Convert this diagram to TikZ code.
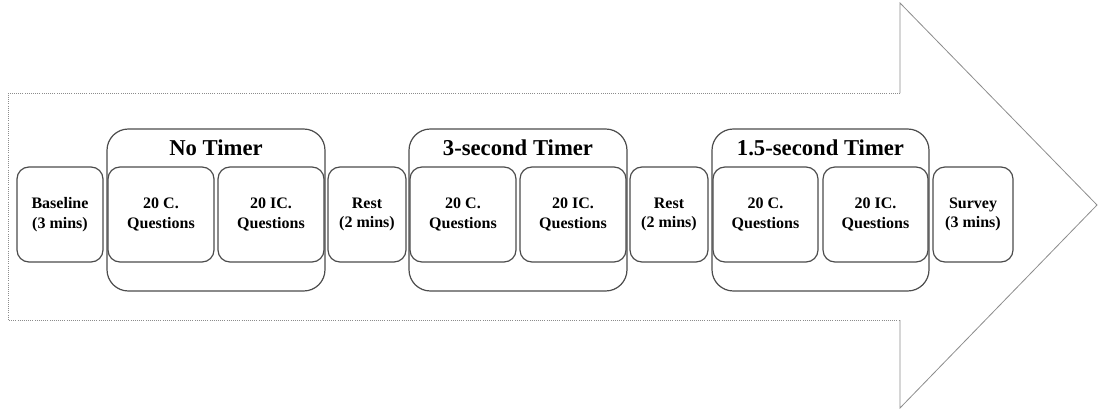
\documentclass[tikz,border=0pt]{standalone}
\usepackage{fontspec}
\setmainfont{Liberation Serif}
\begin{document}
\begin{tikzpicture}[x=0.75pt,y=-0.75pt,
  box/.style={draw=black!70,line width=0.9pt,rounded corners=9pt,inner sep=0pt,
    minimum height=71.25pt,align=center,font=\bfseries\fontsize{12}{14.5}\selectfont},
  group/.style={draw=black!70,line width=0.9pt,rounded corners=16pt,inner sep=0pt,
    minimum height=121.5pt,minimum width=163.5pt},
  gtitle/.style={font=\bfseries\fontsize{17}{20}\selectfont,inner sep=0pt},
  arrowbody/.style={draw=black!45,line width=0.6pt,densely dotted},
  arrowhead/.style={draw=black!45,line width=0.6pt}]
\useasboundingbox (0,0) rectangle (1098,410);
% big arrow
\coordinate (a1) at (900,93);
\coordinate (a2) at (8,93);
\coordinate (a3) at (8,320);
\coordinate (a4) at (900,320);
\coordinate (h1) at (900,3);
\coordinate (tip) at (1097,205);
\coordinate (h2) at (900,408);
\draw[arrowbody] (a1) -- (a2) -- (a3) -- (a4);
\draw[arrowhead] (a1) -- (h1) -- (tip) -- (h2) -- (a4);
% groups
\node[group] (g1) at (216,210) {};
\node[group] (g2) at (518,210) {};
\node[group,minimum width=162.75pt] (g3) at (820.5,210) {};
\node[gtitle] (t1) at (216,148) {No Timer};
\node[gtitle] (t2) at (518,148) {3-second Timer};
\node[gtitle] (t3) at (820.5,148) {1.5-second Timer};
% boxes
\node[box,minimum width=64.5pt] (base) at (60,214.5) {Baseline\\(3 mins)};
\node[box,minimum width=79.5pt] (c1) at (161,214.5) {20 C.\\Questions};
\node[box,minimum width=79.5pt] (ic1) at (271,214.5) {20 IC.\\Questions};
\node[box,minimum width=58.5pt] (r1) at (367,214.5) {Rest\\(2 mins)};
\node[box,minimum width=79.5pt] (c2) at (463,214.5) {20 C.\\Questions};
\node[box,minimum width=79.5pt] (ic2) at (573,214.5) {20 IC.\\Questions};
\node[box,minimum width=58.5pt] (r2) at (669,214.5) {Rest\\(2 mins)};
\node[box,minimum width=78.75pt] (c3) at (765.5,214.5) {20 C.\\Questions};
\node[box,minimum width=78.75pt] (ic3) at (875.5,214.5) {20 IC.\\Questions};
\node[box,minimum width=60pt] (sv) at (973,214.5) {Survey\\(3 mins)};
\end{tikzpicture}
\end{document}
